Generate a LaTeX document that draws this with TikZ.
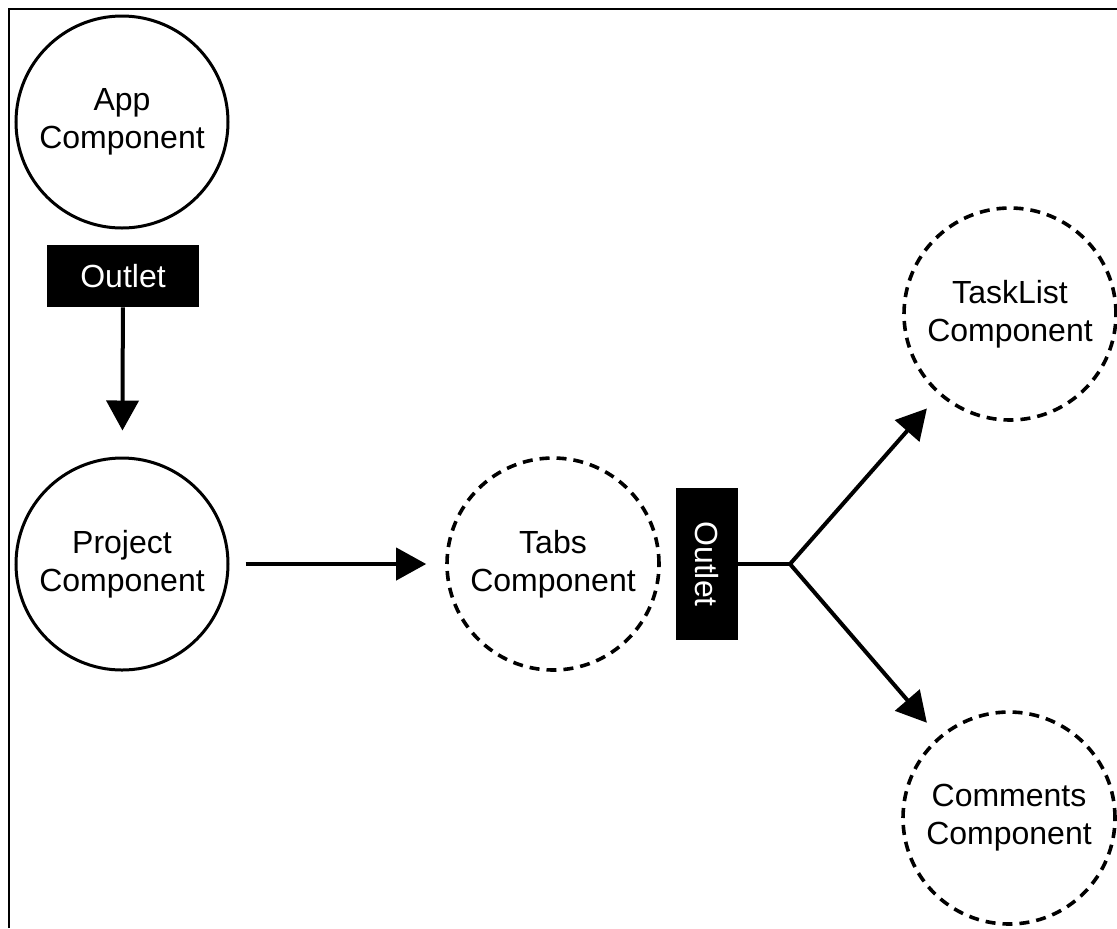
\documentclass[tikz,border=0pt]{standalone}
\usepackage{fontspec}
\setmainfont{Liberation Sans}
\usepackage{tikz}
\usetikzlibrary{positioning,calc,arrows.meta}

\begin{document}
\begin{tikzpicture}[x=0.5pt,y=-0.5pt,
                comp/.style={circle,draw,line width=1.5pt,minimum size=106pt,inner sep=0pt,
                            align=center,font=\fontsize{16}{19}\selectfont},
                lazycomp/.style={comp,line width=1.8pt,dash pattern=on 5pt off 3.5pt},
                outlet/.style={fill=black,text=white,minimum width=76pt,minimum height=31pt,
                            inner sep=0pt,font=\fontsize{16}{19}\selectfont},
                link/.style={line width=2pt,-{Triangle[length=15pt,width=16pt]}}
            ]
                \useasboundingbox (0,0) rectangle (1117,928);
                \draw[line width=1pt] (9,928) -- (9,9) -- (1117,9);
                \node[comp] (app) at (122,122) {App\\Component};
                \node[outlet] (outA) at (123,276) {Outlet};
                \node[comp] (project) at (122,564) {Project\\Component};
                \node[lazycomp] (tabs) at (553,564) {Tabs\\Component};
                \node[outlet,rotate=-90] (outB) at (707,564) {Outlet};
                \node[lazycomp] (tasklist) at (1010,314) {TaskList\\Component};
                \node[lazycomp] (comments) at (1009,818) {Comments\\Component};
                \coordinate (fork) at (790,564);
                \draw[link,shorten >=13pt] (outA) -- (project);
                \draw[link,shorten <=8pt,shorten >=9.5pt] (project) -- (tabs);
                \draw[line width=2pt] (outB) -- (fork);
                \draw[link,shorten >=9pt] (fork) -- (tasklist);
                \draw[link,shorten >=9pt] (fork) -- (comments);
            \end{tikzpicture}
\end{document}
